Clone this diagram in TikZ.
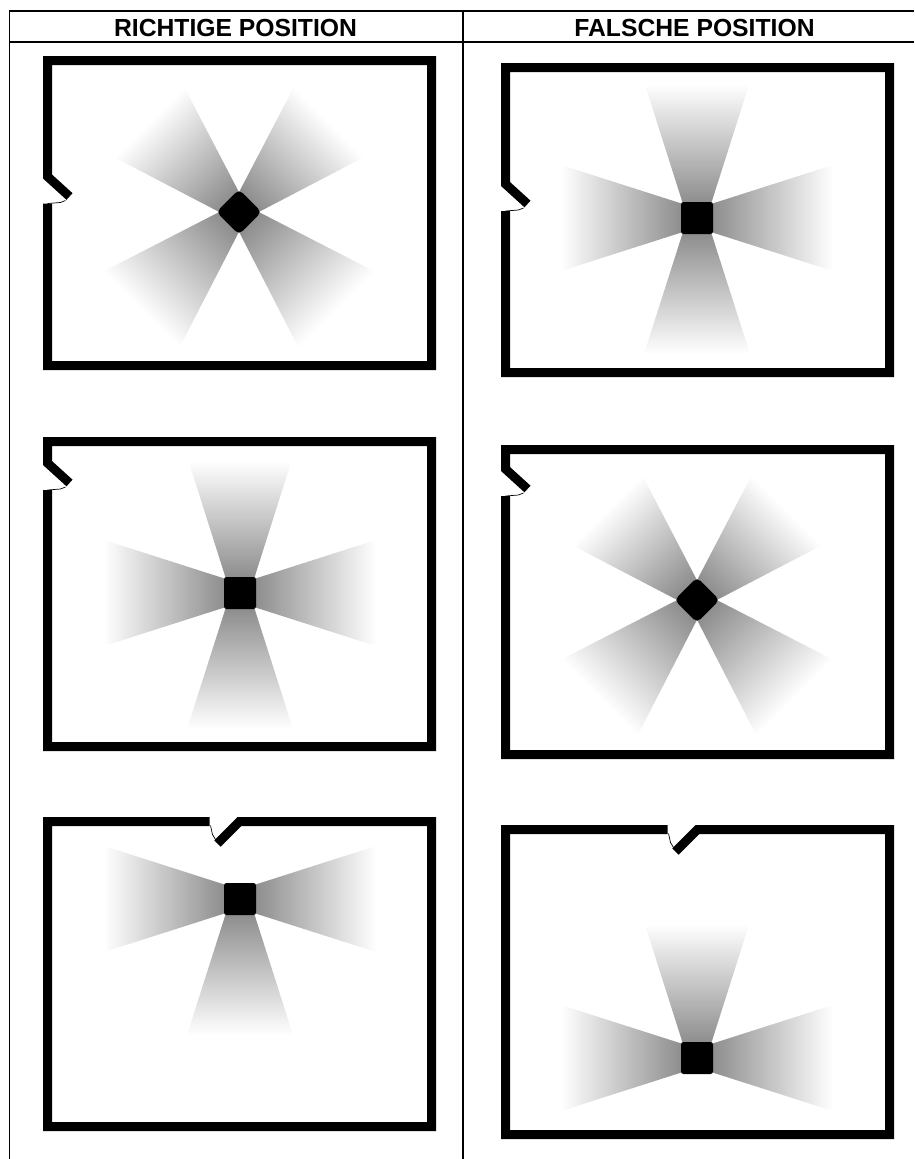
\documentclass[tikz,border=0pt]{standalone}
\usepackage{fontspec}
\setmainfont{Liberation Sans}
\tikzset{
  tablerule/.style={line width=2pt},
  tablepost/.style={line width=1.5pt},
  wall/.style={line width=9pt,line cap=butt,line join=miter},
  doorleaf/.style={line width=0.7pt},
  headtext/.style={font=\fontsize{24.7}{28}\selectfont\bfseries,anchor=base,inner sep=0pt},
  lamp/.style={fill=black,rounded corners=2.5pt,minimum size=32pt,inner sep=0pt},
  lampturned/.style={lamp,rounded corners=5pt,rotate=45},
  beam/.style={left color=black!45,right color=white},
}
% room with its door in the left wall, #3 = height of the hinge
\newcommand{\leftroom}[3]{%
  \begin{scope}[shift={(#1,#2)}]
    \draw[wall] (0,{#3+27}) -- (0,305) -- (384,305) -- (384,0) -- (0,0) -- (0,#3) -- (22,{#3+20});
    \draw[doorleaf] (18,{#3+24}) -- (13,{#3+26}) -- (0,{#3+27});
  \end{scope}}
% room with its door in the top wall
\newcommand{\toproom}[2]{%
  \begin{scope}[shift={(#1,#2)}]
    \draw[wall] (162,0) -- (0,0) -- (0,305) -- (384,305) -- (384,0) -- (192,0) -- (170,22);
    \draw[doorleaf] (163,4) -- (165,13) -- (168,18);
  \end{scope}}
% light beams round a lamp: angle/length pairs
\newcommand{\beams}[3]{%
  \foreach \a/\r in {#3} {
    \shade[beam,transform canvas={shift={(#1,#2)},rotate=\a}] (14,-14) -- (\r,{-0.39*\r}) -- (\r,{0.39*\r}) -- (14,14) -- cycle;
  }}
\begin{document}
\begin{tikzpicture}[x=1pt,y=-1pt]
\useasboundingbox (0,0) rectangle (914,1159);

% ---- table ----
\draw[tablerule] (9,11) -- (914,11);
\draw[tablerule] (9,41.5) -- (914,41.5);
\draw[tablepost] (9.5,11) -- (9.5,1159);
\draw[tablepost] (463,11) -- (463,1159);
\node[headtext] (headright) at (235.5,36) {RICHTIGE POSITION};
\node[headtext] (headwrong) at (694.5,36) {FALSCHE POSITION};

% ---- first row ----
\leftroom{47.5}{60.5}{116}
\beams{239}{212}{45/127,135/127,225/138,315/138}
\node[lampturned] (lampa) at (239,212) {};

\leftroom{505.5}{67.5}{116.5}
\beams{697}{218}{0/136,90/134,180/136,270/136}
\node[lamp] (lampb) at (697,218) {};

% ---- second row ----
\leftroom{47.5}{441.5}{21.5}
\beams{240}{593}{0/136,90/132,180/136,270/136}
\node[lamp] (lampc) at (240,593) {};

\leftroom{505.5}{449.5}{19.5}
\beams{697}{600}{45/127,135/127,225/138,315/138}
\node[lampturned] (lampd) at (697,600) {};

% ---- third row ----
\toproom{47.5}{821.5}
\beams{240}{899}{0/136,180/136,270/136}
\node[lamp] (lampe) at (240,899) {};

\toproom{505.5}{829.5}
\beams{697}{1058}{0/136,90/134,180/136}
\node[lamp] (lampf) at (697,1058) {};
\end{tikzpicture}
\end{document}
